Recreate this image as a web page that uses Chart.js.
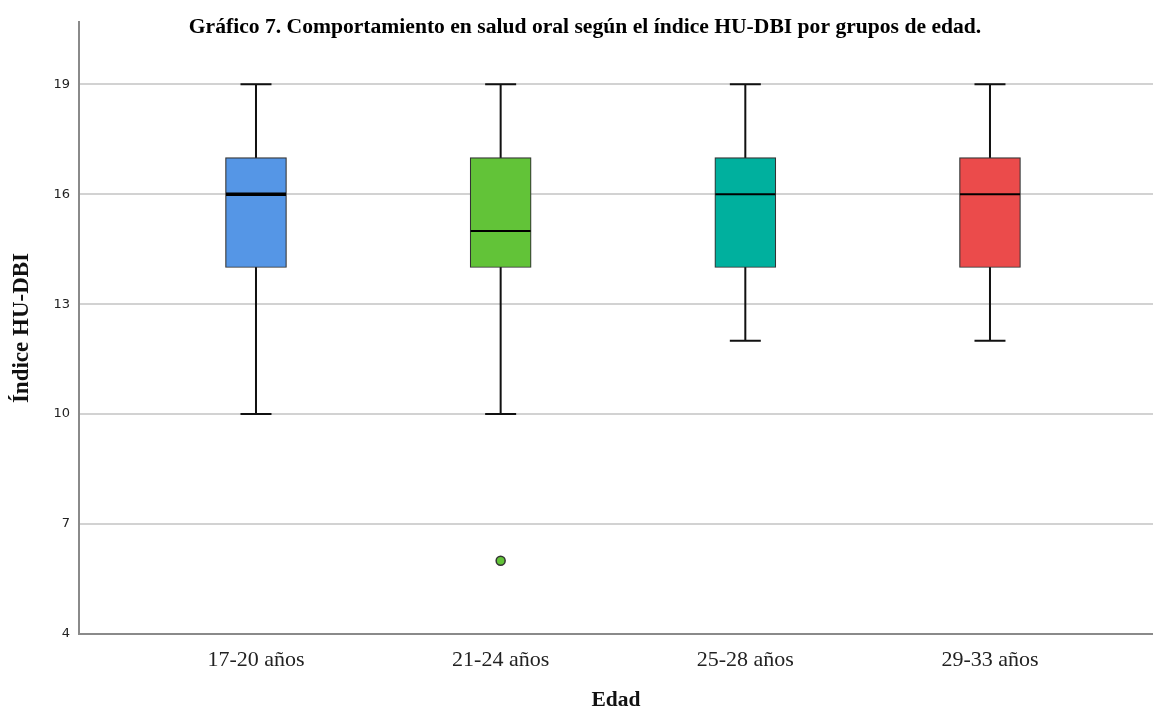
<!DOCTYPE html>
<html><head><meta charset="utf-8">
<script src="https://cdn.jsdelivr.net/npm/chart.js@4/dist/chart.umd.min.js"></script>
<style>html,body{margin:0;padding:0;background:#fff}#wrap{width:1153px;height:709px;position:relative}</style>
</head><body><div id="wrap"><canvas id="c" width="1153" height="709"></canvas></div>
<script>
const chartTitle = 'Gráfico 7. Comportamiento en salud oral según el índice HU-DBI por grupos de edad.';
const yTitle = 'Índice HU-DBI';
const xTitle = 'Edad';
const categories = ['17-20 años', '21-24 años', '25-28 años', '29-33 años'];
const minVals = [10, 10, 12, 12];
const q1Vals = [14, 14, 14, 14];
const medianVals = [16, 15, 16, 16];
const q3Vals = [17, 17, 17, 17];
const maxVals = [19, 19, 19, 19];
const outlierGroups = [2];
const outlierValues = [6];
const yTicks = [4, 7, 10, 13, 16, 19];
const boxColors = ['#5596E6', '#62C338', '#00B09E', '#EB4B4B'];
const medianWidths = [3.5, 2, 2, 2];

const serif = '"Liberation Serif", "Times New Roman", serif';

const boxPlugin = {
  id: 'boxWhiskers',
  beforeDatasetsDraw(chart) {
    const ctx = chart.ctx, xs = chart.scales.x, ys = chart.scales.y;
    ctx.save();
    ctx.strokeStyle = '#111';
    ctx.lineWidth = 2;
    categories.forEach((c, i) => {
      const x = xs.getPixelForValue(i + 1);
      const yMin = ys.getPixelForValue(minVals[i]);
      const yMax = ys.getPixelForValue(maxVals[i]);
      ctx.beginPath();
      ctx.moveTo(x, yMin); ctx.lineTo(x, yMax);
      ctx.moveTo(x - 15.5, yMin); ctx.lineTo(x + 15.5, yMin);
      ctx.moveTo(x - 15.5, yMax); ctx.lineTo(x + 15.5, yMax);
      ctx.stroke();
    });
    ctx.restore();
  },
  afterDatasetsDraw(chart) {
    const ctx = chart.ctx, xs = chart.scales.x, ys = chart.scales.y;
    ctx.save();
    ctx.strokeStyle = '#000';
    categories.forEach((c, i) => {
      const x = xs.getPixelForValue(i + 1);
      const y = ys.getPixelForValue(medianVals[i]);
      ctx.lineWidth = medianWidths[i];
      ctx.beginPath();
      ctx.moveTo(x - 30, y); ctx.lineTo(x + 30, y);
      ctx.stroke();
    });
    ctx.restore();
  },
  afterDraw(chart) {
    const ctx = chart.ctx;
    ctx.save();
    ctx.font = 'bold 21.6px ' + serif;
    ctx.fillStyle = '#000';
    ctx.textAlign = 'center';
    ctx.textBaseline = 'middle';
    ctx.fillText(chartTitle, 585, 27);
    ctx.restore();
  }
};

new Chart(document.getElementById('c'), {
  type: 'bar',
  data: {
    datasets: [
      {
        type: 'bar',
        data: categories.map((c, i) => ({ x: i + 1, y: [q1Vals[i], q3Vals[i]] })),
        backgroundColor: boxColors,
        borderColor: '#333',
        borderWidth: 1.2,
        borderSkipped: false,
        barThickness: 61,
        grouped: false
      },
      {
        type: 'scatter',
        data: outlierGroups.map((g, i) => ({ x: g, y: outlierValues[i] })),
        backgroundColor: outlierGroups.map(g => boxColors[g - 1]),
        borderColor: '#333',
        borderWidth: 1.5,
        pointRadius: 4.5
      }
    ]
  },
  options: {
    responsive: false,
    animation: false,
    events: [],
    layout: { autoPadding: false, padding: { top: 22, right: 0, bottom: 0, left: 0 } },
    plugins: { legend: { display: false }, tooltip: { enabled: false }, title: { display: false } },
    scales: {
      x: {
        type: 'linear',
        offset: false,
        min: 0.2766,
        max: 4.6663,
        afterBuildTicks(s) { s.ticks = categories.map((c, i) => ({ value: i + 1 })); },
        afterFit(s) { s.height = 75; s.paddingRight = 0; s.paddingLeft = 0; },
        ticks: {
          callback: (v) => categories[v - 1],
          font: { family: serif, size: 22 },
          color: '#222',
          padding: 13,
          autoSkip: false,
          maxRotation: 0
        },
        grid: { display: false, drawTicks: false },
        border: { display: true, color: '#8a8a8a', width: 2 },
        title: {
          display: true, text: xTitle,
          font: { family: serif, size: 21.5, weight: 'bold', lineHeight: 1 },
          color: '#111',
          padding: { top: 0, bottom: -2 }
        }
      },
      y: {
        min: 4,
        max: 20.7,
        afterBuildTicks(s) { s.ticks = yTicks.map(v => ({ value: v })); },
        afterFit(s) { s.width = 79; },
        ticks: {
          font: { family: '"DejaVu Sans", sans-serif', size: 13 },
          color: '#222',
          padding: 9
        },
        grid: {
          drawTicks: false,
          color: (c) => (c.tick && c.tick.value === 4) ? 'rgba(0,0,0,0)' : '#d2d2d2',
          lineWidth: 2
        },
        border: { display: true, color: '#8a8a8a', width: 2 },
        title: {
          display: true, text: yTitle,
          font: { family: serif, size: 23, weight: 'bold', lineHeight: 1 },
          color: '#111',
          padding: { top: 10.5, bottom: 0 }
        }
      }
    }
  },
  plugins: [boxPlugin]
});
</script>
</body></html>
